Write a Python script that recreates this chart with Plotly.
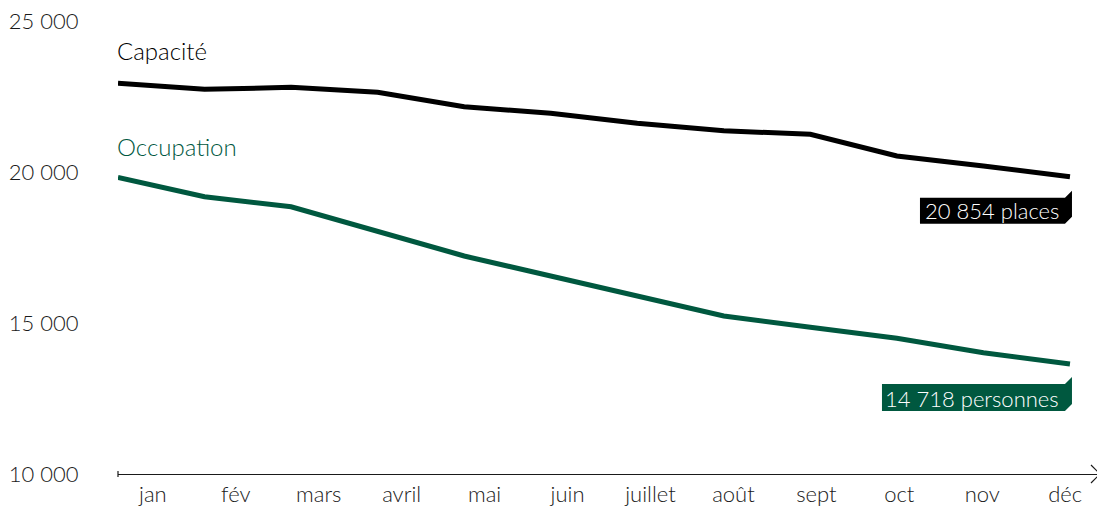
import plotly.graph_objects as go

months = ["jan", "fév", "mars", "avril", "mai", "juin", "juillet", "août", "sept", "oct", "nov", "déc"]
capacite = [22936, 22737, 22804, 22638, 22161, 21943, 21612, 21367, 21248, 20529, 20198, 19844]
occupation = [19824, 19181, 18850, 18023, 17218, 16556, 15894, 15231, 14857, 14493, 14016, 13642]
series_names = ["Capacité", "Occupation"]
end_labels = ["20 854 places", "14 718 personnes"]
y_ticks = [10000, 15000, 20000, 25000]
y_ticktext = ["10 000", "15 000", "20 000", "25 000"]

BLACK = "#000000"
GREEN = "#00583f"
GREY = "#1a1a1a"
FONT = "Lato"
WEIGHT = 300

idx = list(range(len(months)))

fig = go.Figure()
fig.add_trace(go.Scatter(x=idx, y=capacite, mode="lines", line=dict(color=BLACK, width=5),
                         hoverinfo="skip", showlegend=False))
fig.add_trace(go.Scatter(x=idx, y=occupation, mode="lines", line=dict(color=GREEN, width=5),
                         hoverinfo="skip", showlegend=False))
# invisible trace carrying the month categories for the label axis
fig.add_trace(go.Scatter(x=months, y=capacite, mode="lines", opacity=0, xaxis="x2",
                         hoverinfo="skip", showlegend=False))

last = len(months) - 1
for vals, name, lab, col, yshift_name, path in [
    (capacite, series_names[0], end_labels[0], BLACK, 33,
     "M -150,-21 L -5,-21 L 2,-14 L 2,-40 L -5,-47 L -150,-47 Z"),
    (occupation, series_names[1], end_labels[1], GREEN, 31,
     "M -188,-20 L -5,-20 L 2,-13 L 2,-40 L -5,-47 L -188,-47 Z"),
]:
    fig.add_annotation(x=0, y=vals[0], xref="x", yref="y", text=name, showarrow=False,
                       xanchor="left", yanchor="middle", xshift=-3, yshift=yshift_name,
                       font=dict(family=FONT, size=24, color=col, weight=WEIGHT))
    fig.add_shape(type="path", xref="x", yref="y", xsizemode="pixel", ysizemode="pixel",
                  xanchor=last, yanchor=vals[last], path=path,
                  fillcolor=col, line=dict(width=0), layer="above")
    fig.add_annotation(x=last, y=vals[last], xref="x", yref="y", text=lab, showarrow=False,
                       xanchor="right", yanchor="middle", xshift=-9, yshift=-34,
                       font=dict(family=FONT, size=22, color="#ffffff", weight=WEIGHT))

# arrow head and start tick on the x axis line
fig.add_shape(type="path", xref="paper", yref="paper", xsizemode="pixel", ysizemode="pixel",
              xanchor=1, yanchor=0, path="M -9,9 L 0,0 L -9,-9",
              line=dict(color=GREY, width=1.2))
fig.add_shape(type="path", xref="paper", yref="paper", xsizemode="pixel", ysizemode="pixel",
              xanchor=0, yanchor=0, path="M 0,3 L 0,-3",
              line=dict(color=GREY, width=1.2))

# the page body keeps an 8px margin, so the figure is drawn 8px smaller
fig.update_layout(
    width=1097, height=500,
    margin=dict(l=110, r=5, t=13, b=34, autoexpand=False),
    paper_bgcolor="white", plot_bgcolor="white",
    font=dict(family=FONT, color=GREY, weight=WEIGHT),
    xaxis=dict(range=[0, 11.347], showticklabels=False, showgrid=False, zeroline=False,
               showline=True, linecolor=GREY, linewidth=1, ticks="", automargin=False),
    xaxis2=dict(type="category", overlaying="x", anchor="y", side="bottom",
                range=[-0.42, 11.42], showgrid=False, zeroline=False, showline=False,
                ticks="outside", ticklen=1, tickcolor="rgba(0,0,0,0)", automargin=False,
                ticklabeloverflow="allow",
                tickfont=dict(family=FONT, size=22, color=GREY, weight=WEIGHT)),
    yaxis=dict(range=[10000, 25000], tickvals=y_ticks, ticktext=y_ticktext,
               showgrid=False, zeroline=False, showline=False, automargin=False,
               ticks="outside", ticklen=34, tickcolor="rgba(0,0,0,0)",
               ticklabeloverflow="allow",
               tickfont=dict(family=FONT, size=22, color=GREY, weight=WEIGHT)),
    hovermode=False,
)

fig.write_html("out.html")
